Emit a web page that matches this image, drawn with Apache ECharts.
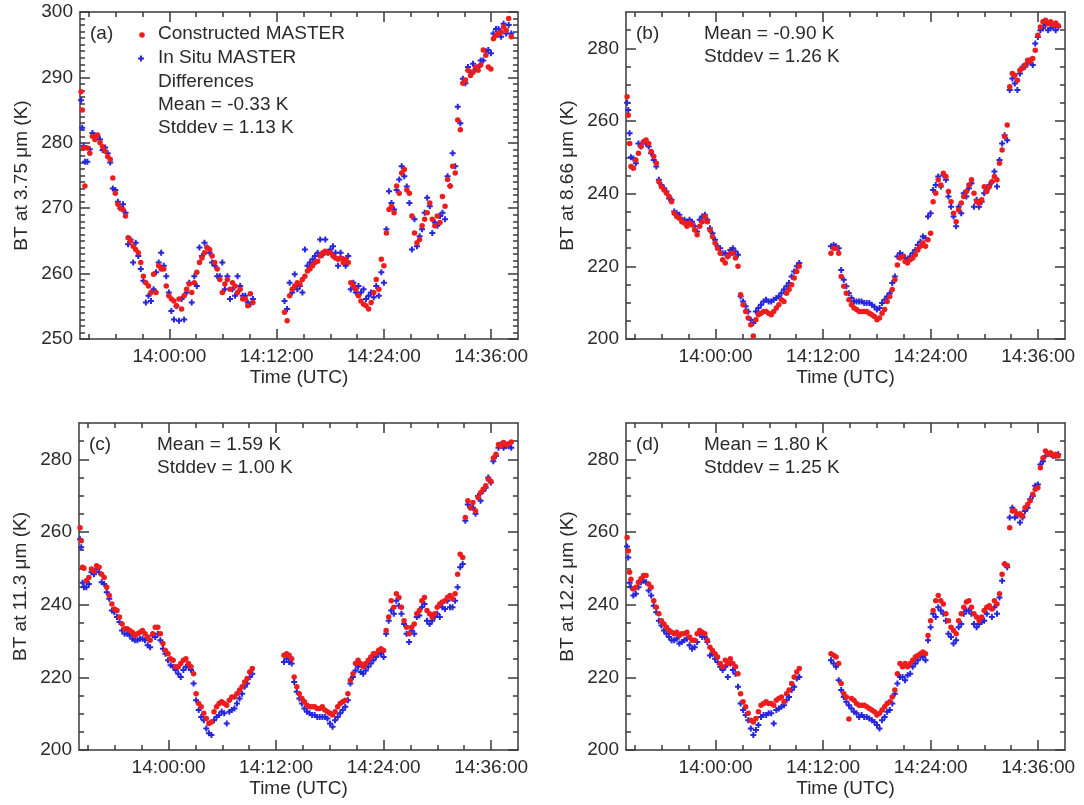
<!DOCTYPE html>
<html><head><meta charset="utf-8">
<script src="https://cdn.jsdelivr.net/npm/echarts@6/dist/echarts.min.js"></script>
<style>html,body{margin:0;padding:0;background:#fff}#c{width:1084px;height:805px}</style>
</head><body><div id="c"></div>
<script>
// Time in minutes of the day (UTC); 840 = 14:00:00
const TIME = [
830.12, 830.25, 830.40, 830.55,
830.82, 831.10, 831.39, 831.67, 831.96, 832.24, 832.53, 832.81, 833.10, 833.38,
833.67, 833.95, 834.24, 834.52, 834.81, 835.09, 835.38, 835.66, 835.95, 836.23,
836.52, 836.80, 837.09, 837.37, 837.66, 837.94, 838.23, 838.51, 838.80, 839.08,
839.37, 839.65, 839.94, 840.22, 840.51, 840.79, 841.08, 841.36, 841.65, 841.93,
842.22, 842.50, 842.79, 843.07, 843.36, 843.64, 843.93, 844.21, 844.50, 844.78,
845.07, 845.35, 845.64, 845.92, 846.21, 846.49, 846.78, 847.06, 847.35, 847.63,
847.92, 848.20, 848.49, 848.77, 849.06, 849.34,
852.88, 853.17, 853.45, 853.74, 854.02, 854.31, 854.59, 854.88, 855.16, 855.45,
855.73, 856.02, 856.30, 856.59, 856.87, 857.16, 857.44, 857.73, 858.01, 858.30,
858.58, 858.87, 859.15, 859.44, 859.72, 860.01, 860.29, 860.58, 860.86, 861.15,
861.43, 861.72, 862.00, 862.29, 862.57, 862.86, 863.14, 863.43, 863.71, 864.00,
864.28, 864.57, 864.85, 865.14, 865.42, 865.71, 865.99, 866.28, 866.56, 866.85,
867.13, 867.42, 867.70, 867.99, 868.27, 868.56, 868.84, 869.13, 869.41, 869.70,
869.98, 870.27, 870.55, 870.84, 871.12, 871.41, 871.69, 871.98, 872.26, 872.55,
872.83, 873.12, 873.40, 873.69, 873.97, 874.26, 874.54, 874.83, 875.11, 875.40,
875.68, 875.97, 876.25, 876.54, 876.82, 877.11, 877.39, 877.68, 877.96, 878.25
];

// (a) 3.75 um
const A_RED = [
287.8, 285.0, 279.2, 273.4,
279.2, 278.4, 281.0, 280.5, 281.2, 280.0, 279.4, 278.7, 277.9, 277.5,
274.6, 272.3, 270.6, 270.0, 269.8, 268.8, 265.5, 265.0, 264.2, 263.7,
263.2, 261.7, 259.6, 258.6, 258.1, 257.1, 259.9, 257.1, 261.2, 260.7,
260.7, 258.1, 256.6, 256.1, 255.8, 255.1, 256.1, 254.6, 256.6, 257.6,
258.4, 257.1, 258.6, 260.2, 261.7, 262.4, 263.2, 264.0, 263.7, 262.7,
261.7, 260.7, 259.1, 257.1, 258.4, 259.1, 257.6, 258.6, 258.1, 257.1,
257.6, 256.1, 256.1, 255.1, 256.9, 255.6,
254.1, 252.8, 256.6, 257.6, 258.1, 258.6, 258.4, 259.1, 259.6, 260.4,
260.7, 261.2, 261.7, 261.9, 262.7, 263.2, 263.4, 263.2, 263.2, 262.7,
262.4, 262.2, 262.4, 261.7, 262.2, 261.7, 258.6, 258.1, 257.6, 256.6,
255.8, 255.3, 255.1, 254.6, 255.6, 257.1, 259.1, 257.6, 262.2, 261.2,
266.2, 269.8, 270.3, 269.3, 273.4, 272.3, 275.4, 275.9, 272.8, 272.3,
268.8, 266.2, 264.7, 265.2, 267.3, 268.3, 269.3, 270.8, 268.3, 267.3,
268.8, 267.8, 271.8, 270.3, 274.4, 273.4, 276.4, 275.4, 283.5, 282.0,
289.1, 289.6, 291.1, 290.3, 290.8, 291.6, 291.1, 291.9, 294.2, 293.4,
291.6, 291.3, 295.9, 296.4, 296.7, 296.9, 297.7, 297.2, 299.0, 296.2
];
const A_BLUE = [
286.5, 282.3, 279.5, 277.1,
277.1, 279.0, 281.5, 281.0, 281.0, 280.5, 278.9, 279.3, 278.4, 277.0,
273.0, 272.8, 271.0, 270.0, 270.6, 269.3, 264.5, 265.2, 261.7, 264.7,
262.7, 260.7, 258.9, 255.6, 256.6, 255.8, 257.6, 260.2, 261.7, 263.2,
261.2, 259.6, 257.1, 254.3, 253.0, 255.0, 252.8, 256.1, 253.0, 257.1,
258.6, 255.6, 259.6, 258.1, 264.0, 262.7, 264.7, 264.0, 263.2, 261.7,
261.2, 259.6, 259.6, 261.7, 257.6, 259.6, 256.1, 257.6, 256.6, 259.6,
258.1, 256.6, 256.6, 255.6, 255.3, 256.1,
255.8, 254.6, 258.6, 257.1, 259.9, 257.6, 258.1, 257.1, 263.7, 261.2,
261.7, 262.2, 262.7, 263.2, 265.2, 262.9, 265.2, 263.2, 263.7, 264.2,
263.2, 261.2, 263.2, 262.2, 261.2, 262.7, 257.6, 258.6, 257.1, 258.1,
257.1, 257.6, 256.1, 256.6, 257.1, 256.4, 258.1, 256.6, 260.2, 258.6,
266.8, 272.6, 270.8, 269.8, 272.8, 274.4, 276.4, 274.9, 273.3, 270.8,
263.7, 268.3, 264.2, 265.7, 266.8, 269.3, 271.6, 270.3, 266.2, 267.8,
267.3, 268.8, 269.3, 268.3, 274.9, 273.4, 278.4, 276.4, 285.5, 283.0,
289.8, 289.1, 291.6, 290.8, 292.1, 291.3, 291.6, 292.6, 292.6, 294.0,
294.2, 293.7, 296.7, 297.4, 297.4, 296.2, 298.2, 296.7, 298.0, 296.7
];

// (b) 8.66 um
const B_RED = [
266.7, 261.6, 253.8, 247.5,
247.0, 249.3, 251.1, 253.0, 254.3, 254.8, 253.8, 251.6, 250.2, 248.4,
243.3, 241.9, 241.0, 240.1, 239.2, 237.8, 234.6, 233.7, 233.2, 232.3,
231.9, 231.0, 231.9, 231.4, 230.0, 228.7, 231.0, 232.3, 233.7, 232.3,
230.0, 228.2, 226.4, 225.0, 223.6, 221.8, 220.9, 222.7, 223.6, 223.6,
222.3, 220.0, 212.2, 209.4, 207.6, 205.8, 203.9, 200.8, 205.3, 206.7,
207.1, 207.6, 207.6, 207.1, 206.7, 207.6, 208.5, 209.4, 210.8, 210.3,
212.6, 213.6, 214.9, 216.8, 218.6, 220.0,
223.6, 225.0, 225.0, 223.6, 217.2, 214.5, 212.6, 210.8, 209.4, 208.5,
208.1, 207.6, 207.6, 207.6, 207.6, 207.1, 206.7, 206.2, 205.3, 205.8,
207.1, 208.1, 210.3, 211.7, 213.6, 216.3, 220.4, 222.3, 222.7, 221.3,
220.9, 221.8, 222.3, 223.2, 224.5, 225.5, 226.4, 225.5, 227.3, 229.1,
237.8, 240.1, 243.8, 242.4, 245.6, 244.7, 240.6, 237.8, 234.6, 232.3,
235.5, 237.4, 239.2, 240.6, 242.4, 243.8, 240.1, 237.8, 237.4, 238.3,
241.9, 240.6, 241.9, 243.3, 244.7, 243.8, 248.4, 252.0, 255.7, 258.9,
269.4, 273.1, 272.6, 271.2, 274.0, 274.5, 275.4, 276.7, 276.3, 277.2,
279.5, 283.6, 285.9, 287.3, 287.7, 286.8, 287.3, 286.4, 287.0, 286.2
];
const B_BLUE = [
265.0, 263.0, 256.6, 250.0,
249.7, 248.4, 253.8, 253.0, 254.3, 253.8, 253.0, 251.1, 249.3, 247.5,
243.8, 242.4, 241.5, 240.6, 238.7, 238.3, 235.1, 234.6, 234.2, 232.8,
232.8, 232.3, 232.8, 232.3, 231.0, 229.6, 232.8, 233.7, 234.2, 232.8,
230.5, 229.1, 227.3, 225.5, 225.0, 223.6, 223.6, 222.7, 224.5, 225.0,
224.1, 223.2, 211.7, 210.3, 209.0, 207.6, 205.3, 204.4, 207.6, 208.5,
209.4, 210.3, 210.8, 210.3, 210.3, 210.8, 211.3, 211.7, 212.6, 213.6,
214.5, 215.4, 217.2, 218.6, 220.0, 220.9,
225.5, 225.9, 225.5, 225.0, 219.0, 216.3, 214.5, 212.6, 211.3, 210.3,
210.3, 210.3, 210.3, 209.9, 209.9, 209.9, 209.4, 208.9, 208.1, 208.5,
209.9, 210.8, 211.7, 212.6, 215.4, 217.2, 222.7, 223.6, 223.2, 222.3,
221.8, 222.7, 223.6, 224.5, 225.9, 226.8, 228.2, 227.8, 233.7, 234.6,
241.0, 242.4, 244.7, 242.0, 245.1, 243.8, 239.2, 236.4, 233.7, 231.0,
236.4, 234.6, 240.1, 239.2, 241.5, 242.9, 236.4, 238.3, 236.4, 237.8,
240.1, 241.0, 242.4, 243.3, 246.1, 242.0, 249.3, 253.8, 256.1, 254.7,
268.5, 271.7, 270.3, 268.5, 273.1, 274.9, 274.9, 275.8, 276.7, 275.4,
281.3, 283.1, 285.0, 285.5, 286.4, 285.0, 285.5, 285.9, 285.0, 285.9
];

// (c) 11.3 um
const C_RED = [
261.2, 257.6, 250.3, 250.0,
246.6, 247.5, 249.8, 249.3, 250.7, 250.3, 248.4, 247.5, 244.8, 242.5,
240.2, 238.8, 238.4, 236.6, 234.7, 233.4, 233.4, 232.9, 232.4, 231.5,
232.0, 232.4, 232.9, 232.0, 231.1, 230.2, 232.0, 233.8, 233.8, 232.0,
229.3, 227.4, 226.5, 225.1, 224.7, 222.9, 222.9, 223.8, 224.7, 225.1,
223.8, 222.9, 221.0, 215.5, 212.8, 211.9, 210.1, 208.7, 207.3, 207.7,
210.5, 211.9, 212.8, 213.3, 212.8, 212.3, 213.7, 214.6, 214.6, 215.5,
216.5, 217.4, 218.7, 219.7, 221.5, 222.4,
226.1, 226.5, 226.1, 225.1, 220.1, 217.4, 215.5, 214.2, 213.3, 212.3,
211.9, 211.9, 211.9, 211.4, 211.4, 211.9, 211.0, 210.5, 210.1, 209.6,
210.5, 211.9, 212.8, 213.3, 213.7, 215.5, 219.2, 221.0, 223.8, 224.7,
223.8, 222.9, 223.8, 224.7, 225.6, 226.5, 226.5, 227.4, 227.9, 227.4,
232.9, 236.6, 241.1, 239.3, 243.0, 242.0, 239.3, 235.6, 233.8, 232.0,
233.8, 234.7, 237.5, 238.4, 241.1, 242.0, 238.4, 237.5, 236.6, 237.5,
239.3, 240.2, 240.7, 241.1, 242.0, 242.5, 241.6, 243.0, 248.4, 253.9,
253.0, 264.0, 268.6, 266.7, 268.1, 265.8, 269.5, 270.8, 271.8, 272.7,
274.5, 274.0, 280.4, 281.4, 284.1, 283.6, 284.6, 284.1, 284.3, 284.8
];
const C_BLUE = [
258.0, 255.8, 246.0, 244.8,
244.8, 245.7, 248.9, 248.4, 249.8, 248.9, 246.2, 245.7, 243.4, 241.6,
238.4, 237.9, 236.6, 235.2, 232.9, 232.0, 232.0, 231.5, 230.6, 230.2,
230.2, 230.6, 230.6, 230.2, 228.8, 228.3, 231.5, 231.1, 232.0, 230.2,
227.9, 226.5, 224.7, 223.3, 222.9, 222.0, 221.0, 220.1, 222.0, 222.9,
222.9, 222.0, 218.3, 213.7, 211.0, 209.1, 208.2, 205.9, 204.6, 204.1,
208.2, 209.1, 209.6, 210.5, 210.1, 207.3, 210.5, 211.0, 211.4, 212.8,
214.2, 215.5, 217.4, 218.3, 220.1, 221.0,
224.2, 225.1, 224.2, 223.8, 218.7, 216.0, 214.2, 212.8, 211.4, 210.5,
210.1, 209.6, 209.6, 209.1, 209.1, 209.1, 209.1, 208.7, 207.3, 206.4,
208.2, 209.1, 210.1, 211.0, 211.9, 213.7, 218.3, 220.1, 221.9, 222.9,
221.5, 221.0, 221.9, 222.9, 223.8, 224.7, 225.6, 226.5, 226.5, 225.6,
232.0, 235.6, 238.4, 237.5, 241.1, 239.7, 237.5, 234.7, 232.0, 229.7,
232.9, 232.0, 236.6, 237.0, 239.3, 240.2, 235.6, 234.7, 235.6, 236.6,
237.5, 236.6, 239.3, 238.8, 241.1, 239.3, 239.3, 241.1, 244.8, 250.3,
251.2, 263.1, 267.6, 266.7, 266.7, 265.0, 269.9, 268.6, 271.3, 272.2,
275.0, 273.6, 279.5, 280.9, 283.2, 284.1, 283.2, 283.6, 283.6, 283.2
];

// (d) 12.2 um
const D_RED = [
258.5, 254.8, 248.9, 247.0,
244.3, 244.8, 246.2, 247.1, 248.0, 248.0, 245.7, 244.8, 241.1, 239.3,
237.5, 235.6, 234.7, 233.8, 232.9, 232.4, 232.0, 232.4, 231.5, 232.0,
232.0, 232.4, 231.1, 230.2, 230.2, 232.0, 232.9, 232.4, 232.0, 230.2,
228.3, 227.4, 226.5, 225.6, 223.8, 222.9, 224.7, 223.8, 225.1, 223.8,
222.9, 221.0, 215.5, 213.3, 211.9, 210.1, 208.2, 207.7, 208.7, 210.5,
212.3, 212.8, 213.3, 212.8, 212.8, 212.3, 213.7, 214.2, 214.6, 213.3,
215.5, 216.5, 218.3, 220.1, 221.5, 222.4,
226.5, 226.1, 225.6, 223.8, 218.3, 215.5, 214.6, 208.5, 214.2, 213.7,
212.8, 212.3, 212.3, 212.3, 211.9, 211.4, 211.0, 210.5, 209.6, 210.1,
211.0, 211.9, 212.8, 213.3, 214.6, 216.5, 221.0, 223.8, 222.9, 223.8,
222.9, 223.8, 224.7, 225.6, 226.0, 226.5, 227.0, 226.5, 231.5, 235.6,
238.4, 241.1, 242.5, 241.1, 240.2, 237.5, 235.6, 233.8, 232.9, 232.0,
235.6, 237.5, 239.3, 240.7, 241.1, 239.3, 237.5, 236.6, 235.6, 236.6,
238.4, 239.3, 239.7, 238.8, 241.1, 240.2, 243.0, 248.4, 251.2, 250.8,
261.2, 265.8, 265.8, 264.9, 265.0, 264.5, 266.7, 267.6, 268.6, 270.4,
271.8, 272.2, 277.7, 280.4, 282.3, 281.4, 281.8, 281.0, 281.4, 280.9
];
const D_BLUE = [
256.0, 253.0, 246.0, 244.8,
242.5, 243.0, 244.8, 246.2, 246.6, 246.2, 243.9, 242.5, 239.7, 237.9,
235.6, 234.3, 232.9, 232.0, 231.1, 230.2, 230.2, 230.6, 229.3, 229.7,
230.2, 230.6, 228.8, 227.9, 228.3, 229.7, 232.0, 231.1, 231.1, 229.7,
226.0, 226.5, 225.1, 224.2, 222.9, 222.0, 222.9, 220.1, 223.8, 222.0,
221.0, 217.4, 212.8, 211.0, 209.6, 208.2, 205.9, 204.1, 205.5, 206.9,
209.1, 209.6, 209.6, 210.1, 210.1, 207.3, 211.0, 211.4, 211.9, 212.3,
213.7, 214.6, 216.5, 217.4, 219.7, 220.1,
224.7, 223.8, 222.9, 219.2, 216.5, 214.6, 213.3, 212.3, 211.4, 210.5,
210.1, 209.1, 209.6, 209.1, 209.1, 208.7, 208.2, 207.7, 206.9, 205.9,
208.2, 209.1, 210.5, 211.0, 212.8, 215.5, 218.3, 220.1, 220.1, 219.2,
220.6, 221.0, 222.9, 223.8, 224.7, 225.6, 225.6, 224.7, 230.2, 233.8,
237.5, 236.6, 239.3, 238.4, 237.5, 235.6, 232.0, 231.1, 229.3, 230.2,
233.8, 234.7, 237.5, 238.4, 238.4, 237.5, 234.7, 233.8, 234.7, 235.2,
235.6, 237.5, 239.3, 236.6, 239.3, 237.5, 242.0, 246.6, 251.2, 250.3,
264.0, 266.7, 264.0, 264.5, 262.6, 264.0, 265.8, 266.7, 269.0, 269.9,
272.7, 273.1, 278.6, 279.5, 280.9, 281.4, 281.4, 280.9, 281.0, 281.4
];

// Axis ticks / labels
const X_LABELS = [840, 852, 864, 876];                 // 14:00:00 ... 14:36:00
const X_MINOR = [831, 834, 837, 843, 846, 849, 855, 858, 861, 867, 870, 873];
const Y_LABELS_A = [250, 260, 270, 280, 290, 300];
const Y_LABELS_BCD = [200, 220, 240, 260, 280];
const NAMES = ['Constructed MASTER', 'In Situ MASTER'];
const Y_NAMES = ['BT at 3.75 \u03bcm (K)', 'BT at 8.66 \u03bcm (K)', 'BT at 11.3 \u03bcm (K)', 'BT at 12.2 \u03bcm (K)'];
const STATS = [
  ['Differences', 'Mean = -0.33 K', 'Stddev = 1.13 K'],
  ['Mean = -0.90 K', 'Stddev = 1.26 K'],
  ['Mean = 1.59 K', 'Stddev = 1.00 K'],
  ['Mean = 1.80 K', 'Stddev = 1.25 K']
];
const TAGS = ['(a)', '(b)', '(c)', '(d)'];

const FONT = '"Liberation Sans", Arial, Helvetica, sans-serif';
const FS = 19;
const AX = '#3a3a3a';
const RED = '#ee1d1d';
const BLUE = '#2626dc';
const PLUS = 'path://M2,0H4V2H6V4H4V6H2V4H0V2H2Z';

function minorList(a, b, step, major) {
  const out = [];
  for (let v = a + step; v < b; v += step) if (v % major !== 0) out.push(v);
  return out;
}
function fmtTime(v) {
  const h = Math.floor(v / 60), m = Math.round(v - h * 60);
  return h + ':' + String(m).padStart(2, '0') + ':00';
}

const PANELS = [
  {grid: {left: 80, top: 12, width: 438, height: 327}, ymin: 250, ymax: 300, ylab: Y_LABELS_A, yminor: minorList(250, 300, 1, 10), red: A_RED, blue: A_BLUE, nameGap: 49},
  {grid: {left: 626, top: 12, width: 439, height: 327}, ymin: 200, ymax: 290, ylab: Y_LABELS_BCD, yminor: minorList(200, 290, 5, 20), red: B_RED, blue: B_BLUE, nameGap: 49},
  {grid: {left: 79, top: 423, width: 439, height: 327}, ymin: 200, ymax: 290, ylab: Y_LABELS_BCD, yminor: minorList(200, 290, 5, 20), red: C_RED, blue: C_BLUE, nameGap: 49},
  {grid: {left: 626, top: 423, width: 439, height: 327}, ymin: 200, ymax: 290, ylab: Y_LABELS_BCD, yminor: minorList(200, 290, 5, 20), red: D_RED, blue: D_BLUE, nameGap: 49}
];

const grids = [], xAxes = [], yAxes = [], series = [], graphics = [];
const lineStyle = {color: AX, width: 1.5};

PANELS.forEach((p, i) => {
  grids.push(Object.assign({containLabel: false, outerBoundsMode: 'none'}, p.grid));
  const xBase = {type: 'value', gridIndex: i, min: 830, max: 879, splitLine: {show: false}};
  xAxes.push(Object.assign({}, xBase, {
    position: 'bottom',
    axisLine: {show: true, onZero: false, lineStyle},
    axisTick: {show: true, inside: true, length: 10, customValues: X_LABELS, lineStyle},
    axisLabel: {show: true, customValues: X_LABELS, formatter: fmtTime, margin: 8, color: '#2a2a2a', fontSize: FS, fontFamily: FONT},
    name: 'Time (UTC)', nameLocation: 'middle', nameGap: 29,
    nameTextStyle: {fontSize: FS, fontFamily: FONT, color: '#2a2a2a'}
  }));
  xAxes.push(Object.assign({}, xBase, {position: 'bottom', axisLine: {show: false, onZero: false},
    axisTick: {show: true, inside: true, length: 5, customValues: X_MINOR, lineStyle}, axisLabel: {show: false}}));
  xAxes.push(Object.assign({}, xBase, {position: 'top', axisLine: {show: true, onZero: false, lineStyle},
    axisTick: {show: true, inside: true, length: 10, customValues: X_LABELS, lineStyle}, axisLabel: {show: false}}));
  xAxes.push(Object.assign({}, xBase, {position: 'top', axisLine: {show: false, onZero: false},
    axisTick: {show: true, inside: true, length: 5, customValues: X_MINOR, lineStyle}, axisLabel: {show: false}}));

  const yBase = {type: 'value', gridIndex: i, min: p.ymin, max: p.ymax, splitLine: {show: false}};
  yAxes.push(Object.assign({}, yBase, {
    position: 'left',
    axisLine: {show: true, onZero: false, lineStyle},
    axisTick: {show: true, inside: true, length: 10, customValues: p.ylab, lineStyle},
    axisLabel: {show: true, customValues: p.ylab, margin: 7, color: '#2a2a2a', fontSize: FS, fontFamily: FONT},
    name: Y_NAMES[i], nameLocation: 'middle', nameGap: p.nameGap,
    nameTextStyle: {fontSize: FS, fontFamily: FONT, color: '#2a2a2a'}
  }));
  yAxes.push(Object.assign({}, yBase, {position: 'left', axisLine: {show: false, onZero: false},
    axisTick: {show: true, inside: true, length: 5, customValues: p.yminor, lineStyle}, axisLabel: {show: false}}));
  yAxes.push(Object.assign({}, yBase, {position: 'right', axisLine: {show: true, onZero: false, lineStyle},
    axisTick: {show: true, inside: true, length: 10, customValues: p.ylab, lineStyle}, axisLabel: {show: false}}));
  yAxes.push(Object.assign({}, yBase, {position: 'right', axisLine: {show: false, onZero: false},
    axisTick: {show: true, inside: true, length: 5, customValues: p.yminor, lineStyle}, axisLabel: {show: false}}));

  series.push({
    name: NAMES[1], type: 'scatter', xAxisIndex: 4 * i, yAxisIndex: 4 * i, z: 2,
    symbol: PLUS, symbolSize: 6, itemStyle: {color: BLUE, opacity: 1},
    data: TIME.map((t, k) => [t, p.blue[k]])
  });
  series.push({
    name: NAMES[0], type: 'scatter', xAxisIndex: 4 * i, yAxisIndex: 4 * i, z: 3,
    symbol: 'circle', symbolSize: 5.5, itemStyle: {color: RED, opacity: 1},
    data: TIME.map((t, k) => [t, p.red[k]])
  });

  const g = p.grid;
  const tx = g.left + 10, sx = g.left + 78;
  const y0 = g.top + 22;
  const textEl = (text, x, y) => ({type: 'text', x, y, silent: true,
    style: {text, fontSize: FS, fontFamily: FONT, fill: '#2a2a2a', verticalAlign: 'middle', align: 'left'}});
  graphics.push(textEl(TAGS[i], tx, y0));
  if (i === 0) {
    graphics.push(textEl(NAMES[0], sx, y0));
    graphics.push(textEl(NAMES[1], sx, y0 + 23.5));
    graphics.push({type: 'circle', silent: true, shape: {cx: sx - 16, cy: y0 + 1, r: 2.8}, style: {fill: RED}});
    graphics.push({type: 'rect', silent: true, shape: {x: sx - 20, y: y0 + 23.5, width: 6, height: 2}, style: {fill: BLUE}});
    graphics.push({type: 'rect', silent: true, shape: {x: sx - 18, y: y0 + 21.5, width: 2, height: 6}, style: {fill: BLUE}});
    STATS[0].forEach((s, k) => graphics.push(textEl(s, sx, y0 + 47.5 + 23 * k)));
  } else {
    STATS[i].forEach((s, k) => graphics.push(textEl(s, sx, y0 + 23 * k)));
  }
});

const chart = echarts.init(document.getElementById('c'), null, {renderer: 'canvas'});
chart.setOption({
  animation: false,
  backgroundColor: '#ffffff',
  textStyle: {fontFamily: FONT},
  grid: grids,
  xAxis: xAxes,
  yAxis: yAxes,
  series: series,
  graphic: graphics
});
</script>
</body></html>
